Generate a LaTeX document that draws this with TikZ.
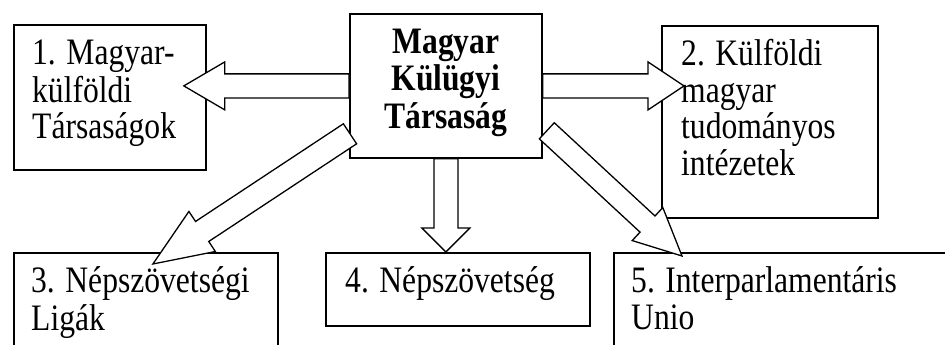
\documentclass[tikz,border=0pt]{standalone}
\usepackage{fontspec}
\setmainfont{Liberation Serif}[FakeStretch=0.847]
\usetikzlibrary{positioning,calc}

% block arrow: tail, tip, head length, shaft half width, head half width
\newcommand{\fatarrow}[5]{%
  \coordinate (fah) at ($(#2)!#3!(#1)$);
  \draw[fat] ($(#1)!#4!90:(#2)$) -- ($(fah)!#4!90:(#2)$) -- ($(fah)!#5!90:(#2)$)
    -- (#2) -- ($(fah)!#5!-90:(#2)$) -- ($(fah)!#4!-90:(#2)$) -- ($(#1)!#4!-90:(#2)$) -- cycle;
}

\begin{document}
\begin{tikzpicture}[x=1pt, y=-1pt,
    box/.style={draw, line width=1.8pt, anchor=north west, inner sep=0pt},
    txt/.style={inner sep=0pt, align=left, font=\fontsize{37.3}{36.5}\selectfont},
    fat/.style={draw, fill=white, line width=1.3pt, line join=miter}]
    \useasboundingbox (0,0) rectangle (945,345);
    % boxes
    \node[box, minimum width=192pt, minimum height=144pt] (mkt) at (349,13) {};
    \node[box, minimum width=192pt, minimum height=145pt] (b1) at (13,24) {};
    \node[box, minimum width=216pt, minimum height=192pt] (b2) at (661,25) {};
    \node[box, minimum width=264pt, minimum height=120pt] (b3) at (13,252) {};
    \node[box, minimum width=264pt, minimum height=73pt] (b4) at (325,252) {};
    \node[box, minimum width=350pt, minimum height=120pt] (b5) at (613,252) {};
    % texts
    \node[txt, align=center, font=\fontsize{37.3}{37.5}\selectfont\bfseries, below=14pt of mkt.north]
        (tm) {\strut Magyar\\Külügyi\\Társaság};
    \node[txt, below right=14.5pt and 19pt of b1.north west] (t1) {\strut 1. Magyar-\\külföldi\\Társaságok};
    \node[txt, below right=14.5pt and 20pt of b2.north west] (t2) {\strut 2. Külföldi\\magyar\\tudományos\\intézetek};
    \node[txt, below right=14.5pt and 18pt of b3.north west] (t3) {\strut 3. Népszövetségi\\Ligák};
    \node[txt, below right=14.5pt and 20pt of b4.north west] (t4) {\strut 4. Népszövetség};
    \node[txt, below right=14.5pt and 18pt of b5.north west] (t5) {\strut 5. Interparlamentáris\\Unio};
    % arrow ends
    \coordinate (p1) at ($(b1.east |- mkt.west)+(-23,0)$);
    \coordinate (p2) at ($(b2.west |- mkt.east)+(23,0)$);
    \coordinate (q3) at ($(mkt.south west)+(1,-25)$);
    \coordinate (p3) at ($(b3.north)+(7,12)$);
    \coordinate (p4) at (mkt.south |- b4.north);
    \coordinate (q5) at ($(mkt.south east)+(4,-28)$);
    \coordinate (p5) at ($(b5.north west)+(69,4)$);
    % arrows
    \fatarrow{mkt.west}{p1}{41pt}{12pt}{24pt}
    \fatarrow{mkt.east}{p2}{36pt}{12pt}{24pt}
    \fatarrow{q3}{p3}{59pt}{12pt}{24pt}
    \fatarrow{mkt.south}{p4}{24pt}{12pt}{24pt}
    \fatarrow{q5}{p5}{47pt}{11pt}{22.5pt}
\end{tikzpicture}
\end{document}
